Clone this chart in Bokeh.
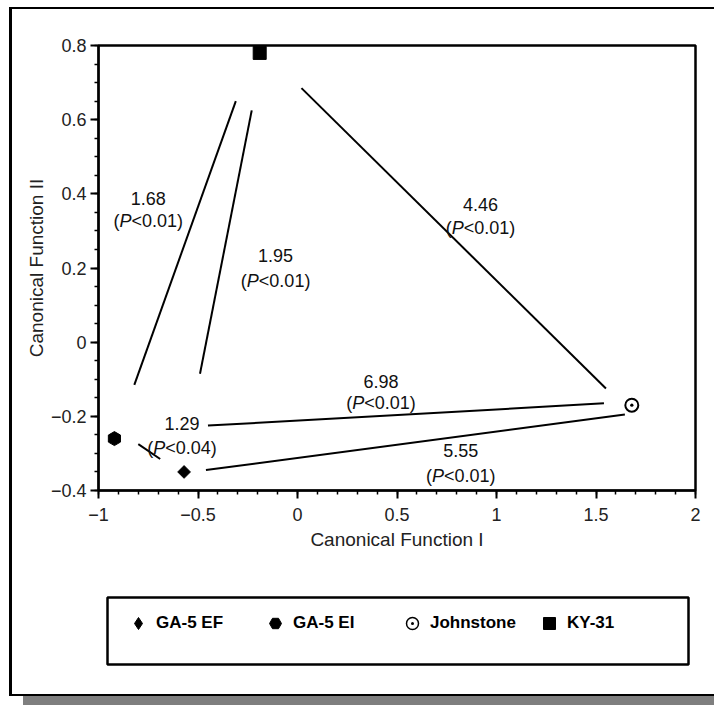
import numpy as np
from bokeh.plotting import figure
from bokeh.layouts import column
from bokeh.models import (Range1d, SingleIntervalTicker, CustomJSTickFormatter,
                          BoxAnnotation)
from bokeh.core.properties import value
from bokeh.embed import file_html
from bokeh.resources import INLINE

# ---- data ----
cultivars = ["GA-5 EF", "GA-5 EI", "Johnstone", "KY-31"]
cf1 = [-0.57, -0.92, 1.68, -0.19]
cf2 = [-0.35, -0.26, -0.17, 0.78]

seg_x0 = [-0.82, -0.49, 0.02, -0.45, -0.80, -0.46]
seg_y0 = [-0.115, -0.085, 0.685, -0.225, -0.275, -0.345]
seg_x1 = [-0.31, -0.23, 1.55, 1.54, -0.69, 1.645]
seg_y1 = [0.65, 0.625, -0.125, -0.165, -0.315, -0.195]

distances = ["1.68", "1.95", "4.46", "6.98", "1.29", "5.55"]
p_values = ["<0.01", "<0.01", "<0.01", "<0.01", "<0.04", "<0.01"]
lab_x = [-0.75, -0.11, 0.92, 0.42, -0.58, 0.82]
lab_y_dist = [0.387, 0.234, 0.372, -0.107, -0.22, -0.293]
lab_y_p = [0.328, 0.165, 0.309, -0.164, -0.285, -0.36]

FONT = value("Liberation Sans")

# ---------------- main plot ----------------
p = figure(width=702, height=551, x_range=Range1d(-1, 2), y_range=Range1d(-0.4, 0.8),
           output_backend="svg", toolbar_location=None,
           min_border_left=86, min_border_right=19, min_border_top=36,
           min_border_bottom=70)
p.background_fill_color = "white"
p.border_fill_color = "white"
p.xgrid.visible = False
p.ygrid.visible = False
p.outline_line_color = "black"
p.outline_line_width = 2.5

fmt = CustomJSTickFormatter(code="""
let s = (Math.round(tick*10)/10).toString();
return s.replace('-', '\u2212');
""")

p.xaxis.ticker = SingleIntervalTicker(interval=0.5, num_minor_ticks=5)
p.yaxis.ticker = SingleIntervalTicker(interval=0.2, num_minor_ticks=4)
for ax in (p.xaxis[0], p.yaxis[0]):
    ax.formatter = fmt
    ax.axis_line_color = "black"
    ax.axis_line_width = 2
    ax.major_tick_line_color = "black"
    ax.major_tick_line_width = 2
    ax.minor_tick_line_color = "black"
    ax.minor_tick_line_width = 1.5
    ax.major_tick_in = 0
    ax.major_tick_out = 8
    ax.minor_tick_in = 0
    ax.minor_tick_out = 4
    ax.major_label_text_font = "Liberation Sans"
    ax.major_label_text_font_size = "18px"
    ax.major_label_text_color = "#222222"
    ax.axis_label_text_font = "Liberation Sans"
    ax.axis_label_text_font_size = "19px"
    ax.axis_label_text_font_style = "normal"
    ax.axis_label_text_color = "#222222"

p.xaxis.axis_label = "Canonical Function I"
p.yaxis.axis_label = "Canonical Function II"
p.xaxis.major_label_standoff = 9
p.xaxis.axis_label_standoff = 5
p.yaxis.major_label_standoff = 4
p.yaxis.axis_label_standoff = 1

# connecting lines
p.segment(x0=seg_x0, y0=seg_y0, x1=seg_x1, y1=seg_y1,
          line_color="black", line_width=2)

# distance labels
p.text(x=lab_x, y=lab_y_dist, text=distances, text_align="center",
       text_baseline="middle", text_font=FONT, text_font_size="18px",
       text_color="#111111")

fs = 18
w_open, w_P = 0.333 * fs, 0.667 * fs
w_rest = 2.863 * fs
half = (w_open + w_P + w_rest) / 2
open_txt = ["(" for _ in p_values]
p_txt = ["P" for _ in p_values]
rest_txt = [v + ")" for v in p_values]
p.text(x=lab_x, y=lab_y_p, text=open_txt, text_align="left", text_baseline="middle",
       x_offset=-half, text_font=FONT, text_font_size="18px", text_color="#111111")
p.text(x=lab_x, y=lab_y_p, text=p_txt, text_align="left", text_baseline="middle",
       x_offset=-half + w_open, text_font=FONT, text_font_size="18px",
       text_font_style="italic", text_color="#111111")
p.text(x=lab_x, y=lab_y_p, text=rest_txt, text_align="left", text_baseline="middle",
       x_offset=-half + w_open + w_P, text_font=FONT, text_font_size="18px",
       text_color="#111111")

# cultivar points
styles = [
    dict(marker="square", size=9, angle=np.pi / 4, fill_color="black", line_color="black"),
    dict(marker="hex", size=14, angle=np.pi / 2, fill_color="black", line_color="black"),
    dict(marker="circle_dot", size=13, fill_color="white", line_color="black", line_width=2),
    dict(marker="square", size=13, fill_color="black", line_color="black"),
]
for i, name in enumerate(cultivars):
    p.scatter(x=[cf1[i]], y=[cf2[i]], **styles[i])

# ---------------- legend strip (separate small figure) ----------------
q = figure(width=702, height=80, x_range=Range1d(-1, 2), y_range=Range1d(0, 1),
           output_backend="svg", toolbar_location=None,
           x_axis_type=None, y_axis_type=None,
           min_border_left=86, min_border_right=19,
           min_border_top=0, min_border_bottom=0)
q.margin = (31, 0, 0, 0)
q.xgrid.visible = False
q.ygrid.visible = False
q.background_fill_color = "white"
q.border_fill_color = "white"
q.outline_line_alpha = 0

legend_styles = [
    dict(marker="diamond", fill_color="black", line_color="black"),
    dict(marker="hex", fill_color="black", line_color="black"),
    dict(marker="circle_dot", fill_color="white", line_color="black", line_width=1.5),
    dict(marker="square", fill_color="black", line_color="black"),
]
# legend-only renderers (no visible data in this strip)
for i, name in enumerate(cultivars):
    q.scatter(x=[np.nan], y=[np.nan], legend_label=name, **legend_styles[i])

q.add_layout(BoxAnnotation(left=95, right=676, top=6, bottom=73,
                           left_units="canvas", right_units="canvas",
                           top_units="canvas", bottom_units="canvas",
                           fill_alpha=0, line_color="black", line_alpha=1,
                           line_width=2.5))

lg = q.legend[0]
lg.orientation = "horizontal"
lg.location = (25, 33)
lg.glyph_width = 30
lg.glyph_height = 30
lg.label_standoff = 3
lg.label_width = 94
lg.spacing = 10
lg.padding = 0
lg.margin = 0
lg.border_line_alpha = 0
lg.background_fill_alpha = 0
lg.label_text_font = "Liberation Sans"
lg.label_text_font_size = "17px"
lg.label_text_font_style = "bold"
lg.label_text_color = "black"

layout = column(p, q, width=702, height=685, spacing=0)
layout.margin = (7, 0, 0, 9)
layout.styles = {
    "box-sizing": "content-box",
    "border-left": "3px solid black",
    "border-top": "2px solid black",
    "border-bottom": "2px solid black",
    "box-shadow": "14px 10px 0px 0px #7f7f7f",
    "background-color": "white",
}

open("out.html", "w").write(file_html(layout, INLINE))
